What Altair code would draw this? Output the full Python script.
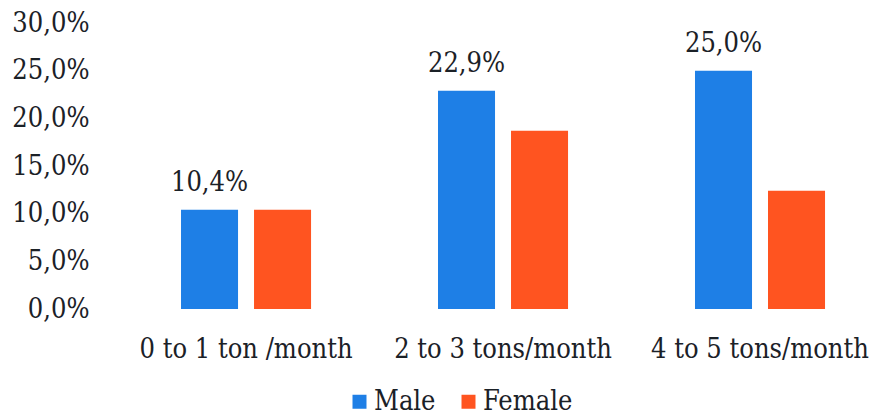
import altair as alt
import pandas as pd

# Monthly volume classes and share of respondents by sex (%)
categories = ["0 to 1 ton /month", "2 to 3 tons/month", "4 to 5 tons/month"]
male = [10.4, 22.9, 25.0]
female = [10.4, 18.7, 12.4]
series = ["Male", "Female"]
colors = ["#1e7fe6", "#ff5420"]
y_ticks = [0, 5, 10, 15, 20, 25, 30]

rows = []
for cat, m, f in zip(categories, male, female):
    rows.append({"category": cat, "sex": "Male", "value": m})
    rows.append({"category": cat, "sex": "Female", "value": f})
df = pd.DataFrame(rows)

FONT = "'DejaVu Serif Condensed', 'DejaVu Serif', serif"
INK = "#1b2127"
SIZE = 27

x = alt.X(
    "category:N",
    sort=categories,
    title=None,
    scale=alt.Scale(paddingInner=0.494, paddingOuter=0.249, align=0.633),
    axis=alt.Axis(
        labelAngle=0, domain=False, ticks=False, labelPadding=48,
        labelBaseline="alphabetic", labelFontSize=SIZE, labelFont=FONT,
        labelColor=INK, labelOverlap=False, labelLimit=400,
    ),
)
xo = alt.XOffset(
    "sex:N", sort=series,
    scale=alt.Scale(domain=series, paddingInner=0.219, paddingOuter=0),
)
y = alt.Y(
    "value:Q",
    title=None,
    scale=alt.Scale(domain=[0, 30], nice=False),
    axis=alt.Axis(
        values=y_ticks, grid=False, domain=False, ticks=False, labelPadding=11,
        labelFontSize=SIZE, labelFont=FONT, labelColor=INK,
        labelExpr="replace(format(datum.value, '.1f'), '.', ',') + '%'",
    ),
)
color = alt.Color(
    "sex:N",
    sort=series,
    scale=alt.Scale(domain=series, range=colors),
    legend=alt.Legend(
        title=None, orient="none", legendX=246, legendY=365,
        direction="horizontal", symbolType="square", symbolSize=196,
        symbolStrokeWidth=0, symbolOpacity=1, labelFontSize=SIZE,
        labelFont=FONT, labelColor=INK, labelOffset=1, columnPadding=19,
    ),
)

bars = alt.Chart(df).mark_bar().encode(x=x, xOffset=xo, y=y, color=color)

labels = (
    alt.Chart(df)
    .transform_filter(alt.datum.sex == "Male")
    .transform_calculate(label="replace(format(datum.value, '.1f'), '.', ',') + '%'")
    .mark_text(dy=-19, baseline="alphabetic", fontSize=SIZE, font=FONT, color=INK)
    .encode(x=x, xOffset=xo, y=y, text="label:N")
)

chart = (
    alt.layer(bars, labels)
    .properties(
        width=772,
        height=286,
        autosize=alt.AutoSizeParams(type="none"),
        padding={"left": 100, "top": 23, "right": 0, "bottom": 108},
        background="white",
    )
    .configure_view(stroke=None)
)

chart.save("out.html", embed_options={"renderer": "svg", "actions": False})
